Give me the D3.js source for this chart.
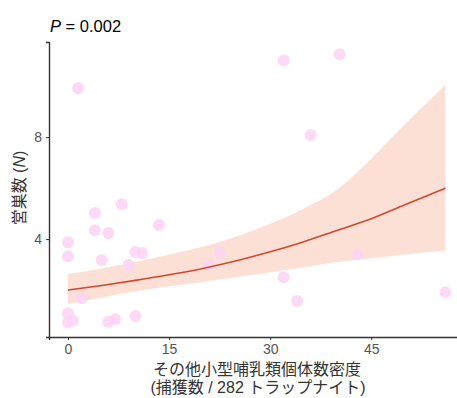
<!DOCTYPE html>
<html>
<head>
  <meta charset="utf-8">
  <script src="https://d3js.org/d3.v7.min.js"></script>
  <style>
    body { margin: 0; background: #fff; }
    svg { display: block; }
  </style>
</head>
<body>
  <div id="chart"></div>
  <script>
    // observed points: small mammal density vs number of nests
    var pointX = [1.5, 0, 0, 4, 4, 8, 6, 13.5, 5, 10, 11, 9, 2, 0, 0.7, 0, 6, 7, 10, 22.5, 21, 32, 34, 43, 56, 32, 40.3, 36];
    var pointY = [9.92, 3.88, 3.33, 5.02, 4.35, 5.37, 4.24, 4.55, 3.18, 3.49, 3.45, 2.98, 1.69, 1.08, 0.82, 0.72, 0.75, 0.86, 0.98, 3.45, 2.98, 2.5, 1.57, 3.41, 1.92, 11.0, 11.25, 8.08];

    // fitted curve and confidence band
    var fitX = [0, 5, 10, 15, 20, 25, 30, 35, 40, 45, 50, 56];
    var fitY = [2.0, 2.18, 2.38, 2.6, 2.85, 3.15, 3.5, 3.9, 4.35, 4.8, 5.35, 6.0];
    var upperY = [2.63, 2.85, 3.1, 3.4, 3.7, 4.1, 4.6, 5.2, 5.95, 7.15, 8.5, 10.04];
    var lowerY = [1.45, 1.7, 1.95, 2.15, 2.32, 2.5, 2.7, 2.9, 3.1, 3.25, 3.4, 3.55];

    var xTicks = [0, 15, 30, 45];
    var yTicks = [4, 8];

    var W = 457, H = 398;
    var svg = d3.select("#chart").append("svg")
      .attr("width", W).attr("height", H)
      .style("overflow", "hidden");

    var x = d3.scaleLinear().domain([-2.82, 59.2]).range([49, 467]);
    var y = d3.scaleLinear().domain([0.16, 11.73]).range([337, 42]);

    var band = fitX.map(function(d, i) { return {x: d, lo: lowerY[i], hi: upperY[i], f: fitY[i]}; });

    svg.append("path")
      .datum(band)
      .attr("fill", "#fde0d5")
      .attr("d", d3.area()
        .x(function(d) { return x(d.x); })
        .y0(function(d) { return y(d.lo); })
        .y1(function(d) { return y(d.hi); })
        .curve(d3.curveMonotoneX));

    var pts = pointX.map(function(d, i) { return {x: d, y: pointY[i]}; });
    svg.append("g").selectAll("circle")
      .data(pts)
      .enter().append("circle")
        .attr("cx", function(d) { return x(d.x); })
        .attr("cy", function(d) { return y(d.y); })
        .attr("r", 6)
        .attr("fill", "#fbd4f4")
        .attr("fill-opacity", 0.85);

    svg.append("path")
      .datum(band)
      .attr("fill", "none")
      .attr("stroke", "#d1482e")
      .attr("stroke-width", 1.6)
      .attr("d", d3.line()
        .x(function(d) { return x(d.x); })
        .y(function(d) { return y(d.f); })
        .curve(d3.curveMonotoneX));

    // axes
    var xAxis = svg.append("g")
      .attr("transform", "translate(0,337)")
      .call(d3.axisBottom(x).tickValues(xTicks).tickSize(3).tickPadding(4));
    var yAxis = svg.append("g")
      .attr("transform", "translate(49,0)")
      .call(d3.axisLeft(y).tickValues(yTicks).tickSize(3).tickPadding(4));

    [xAxis, yAxis].forEach(function(a) {
      a.select(".domain").attr("stroke", "#333").attr("stroke-width", 1.4);
      a.selectAll(".tick line").attr("stroke", "#333");
      a.selectAll(".tick text")
        .attr("fill", "#555")
        .style("font-family", "'Liberation Sans', Arial, sans-serif")
        .style("font-size", "14px");
    });

    // P value
    var pt = svg.append("text")
      .attr("x", 50).attr("y", 32)
      .attr("fill", "#000")
      .style("font-family", "'Liberation Sans', Arial, sans-serif")
      .style("font-size", "16.5px");
    pt.append("tspan").style("font-style", "italic").text("P");
    pt.append("tspan").text(" = 0.002");

    // axis titles
    var jp = "'Liberation Sans', 'Noto Sans CJK JP', sans-serif";
    svg.append("text")
      .attr("x", 257).attr("y", 375)
      .attr("text-anchor", "middle")
      .attr("fill", "#333")
      .style("font-family", jp)
      .style("font-size", "16px")
      .text("その他小型哺乳類個体数密度");
    svg.append("text")
      .attr("x", 258).attr("y", 393)
      .attr("text-anchor", "middle")
      .attr("fill", "#333")
      .style("font-family", jp)
      .style("font-size", "16px")
      .text("(捕獲数 / 282 トラップナイト)");

    var yt = svg.append("text")
      .attr("transform", "translate(25,188) rotate(-90)")
      .attr("text-anchor", "middle")
      .attr("fill", "#333")
      .style("font-family", jp)
      .style("font-size", "16px");
    yt.append("tspan").text("営巣数 (");
    yt.append("tspan").style("font-style", "italic").text("N");
    yt.append("tspan").text(")");
  </script>
</body>
</html>
